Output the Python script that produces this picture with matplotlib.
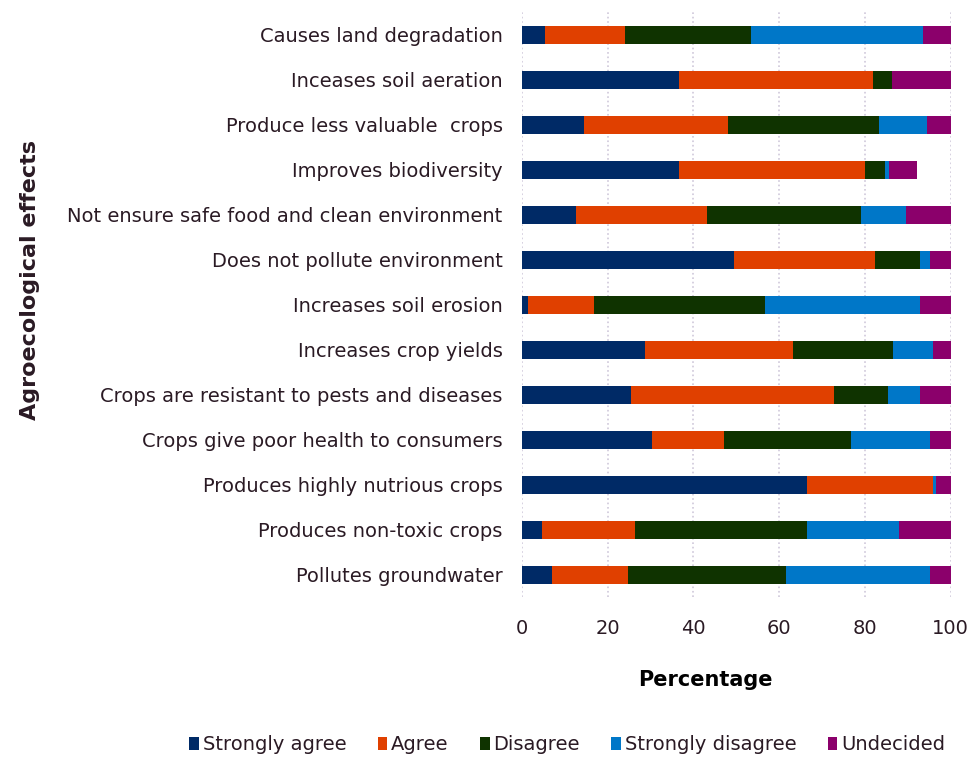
import matplotlib.pyplot as plt
import numpy as np

plt.rcParams['font.family'] = ['DejaVu Sans']

effects = ["Causes land degradation",
           "Inceases soil aeration",
           "Produce less valuable  crops",
           "Improves biodiversity",
           "Not ensure safe food and clean environment",
           "Does not pollute environment",
           "Increases soil erosion",
           "Increases crop yields",
           "Crops are resistant to pests and diseases",
           "Crops give poor health to consumers",
           "Produces highly nutrious crops",
           "Produces non-toxic crops",
           "Pollutes groundwater"]

strongly_agree    = [5.4, 36.7, 14.4, 36.7, 12.7, 49.4, 1.4, 28.6, 25.5, 30.3, 66.4, 4.7, 7.1]
agree             = [18.6, 45.1, 33.6, 43.3, 30.4, 33.0, 15.3, 34.6, 47.2, 16.8, 29.5, 21.7, 17.7]
disagree          = [29.5, 4.5, 35.2, 4.7, 36.0, 10.5, 40.0, 23.3, 12.8, 29.7, 0.0, 40.0, 36.7]
strongly_disagree = [40.0, 0.0, 11.2, 1.0, 10.6, 2.4, 36.2, 9.5, 7.4, 18.5, 0.8, 21.6, 33.8]
undecided         = [6.5, 13.7, 5.6, 6.4, 10.3, 4.7, 7.1, 4.0, 7.1, 4.7, 3.3, 12.0, 4.7]

series = [("Strongly agree", strongly_agree, "#002a66"),
          ("Agree", agree, "#e04000"),
          ("Disagree", disagree, "#0f3300"),
          ("Strongly disagree", strongly_disagree, "#0077c8"),
          ("Undecided", undecided, "#8b006b")]

txt = "#2a1a24"

fig = plt.figure(figsize=(9.73, 7.58), dpi=100)
ax = fig.add_axes([0.5365, 0.2124, 0.4405, 0.7716])

y = np.arange(len(effects))
left = np.zeros(len(effects))
for name, vals, col in series:
    ax.barh(y, vals, left=left, height=0.4, color=col, label=name, zorder=3)
    left += np.array(vals)

ax.set_ylim(len(effects) - 0.5, -0.5)
ax.set_xlim(0, 100)
ax.set_xticks([0, 20, 40, 60, 80, 100])
ax.set_yticks(y)
ax.set_yticklabels(effects)
ax.tick_params(axis='both', length=0, labelsize=14, colors=txt)
ax.tick_params(axis='y', pad=14)
ax.tick_params(axis='x', pad=16)
ax.grid(axis='x', color='#cfc8da', linestyle=':', linewidth=1.2, zorder=0)
for s in ax.spines.values():
    s.set_visible(False)

ax.set_xlabel("Percentage", fontsize=15, fontweight='bold', color='black')
ax.xaxis.set_label_coords(0.427, -0.125)
fig.text(0.031, 0.63, "Agroecological effects", rotation=90, fontsize=16,
         fontweight='bold', color=txt, ha='center', va='center')

fig.legend(loc='lower center', bbox_to_anchor=(0.583, -0.018), ncol=5, frameon=False,
           fontsize=14, handlelength=0.5, handleheight=0.7, handletextpad=0.2,
           columnspacing=1.6, labelcolor=txt)

fig.savefig("out.png", dpi=100)
